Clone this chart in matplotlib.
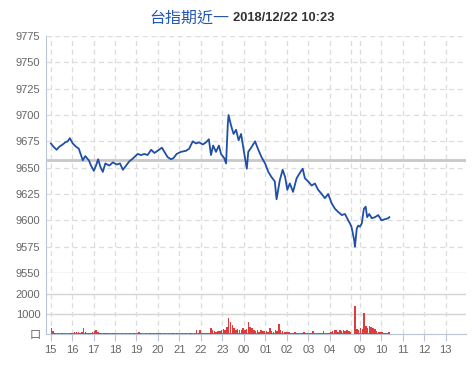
import numpy as np
import matplotlib
matplotlib.use("Agg")
import matplotlib.pyplot as plt

# price samples (night session 15:00-05:00, day session 08:45-)
price_times = ["15:01", "15:08", "15:17", "15:25", "15:34", "15:41", "15:48", "15:54", "16:02", "16:11",
               "16:19", "16:25", "16:30", "16:37", "16:47", "16:53", "17:01", "17:07", "17:13", "17:19",
               "17:26", "17:33", "17:44", "17:54", "18:05", "18:14", "18:22", "18:31", "18:40", "18:51",
               "19:03", "19:13", "19:22", "19:31", "19:41", "19:50", "19:59", "20:11", "20:18", "20:27",
               "20:36", "20:43", "20:52", "21:04", "21:18", "21:27", "21:37", "21:46", "21:55", "22:05",
               "22:14", "22:22", "22:28", "22:34", "22:42", "22:50", "22:56", "23:05", "23:10", "23:15",
               "23:17", "23:24", "23:31", "23:38", "23:45", "23:52", "00:01", "00:08",
               "00:12", "00:22", "00:31", "00:40", "00:49", "00:59", "01:08", "01:17", "01:26", "01:31",
               "01:40", "01:48", "01:55", "02:01", "02:08", "02:17", "02:27", "02:36", "02:44", "02:50",
               "02:59", "03:09", "03:18", "03:27", "03:37", "03:46", "03:55", "04:05", "04:14", "04:23",
               "04:33", "04:42", "04:51", "04:56", "05:00",
               "08:45", "08:47", "08:52", "08:56", "09:01", "09:06", "09:12", "09:17", "09:21", "09:27",
               "09:34", "09:43", "09:52", "10:01", "10:10", "10:20", "10:23"]
prices = [9673, 9670, 9667, 9670, 9672, 9674, 9675, 9678, 9673, 9670,
          9668, 9662, 9657, 9661, 9657, 9652, 9647, 9652, 9658, 9651,
          9646, 9654, 9652, 9655, 9653, 9654, 9648, 9652, 9656, 9659,
          9663, 9662, 9663, 9662, 9667, 9664, 9666, 9669, 9665, 9660,
          9658, 9659, 9663, 9665, 9666, 9668, 9675, 9673, 9674, 9672,
          9674, 9677, 9662, 9671, 9665, 9671, 9663, 9659, 9654, 9692,
          9700, 9690, 9682, 9686, 9676, 9682, 9663, 9649,
          9665, 9670, 9675, 9667, 9660, 9654, 9646, 9641, 9637, 9620,
          9638, 9648, 9641, 9629, 9635, 9627, 9640, 9645, 9649, 9640,
          9637, 9633, 9635, 9629, 9625, 9621, 9625, 9616, 9611, 9608,
          9605, 9606, 9600, 9597, 9594,
          9581, 9575, 9592, 9595, 9594, 9597, 9611, 9613, 9603, 9606,
          9602, 9603, 9605, 9600, 9601, 9602, 9603]
ref_price = 9657

# volume per 5 minutes, one row per hour
vol_night = [280, 150, 60, 0, 40, 0, 40, 0, 50, 0, 30, 60,
             60, 100, 80, 120, 60, 100, 280, 120, 50, 60, 30, 80,
             150, 180, 120, 60, 50, 40, 60, 40, 30, 50, 40, 30,
             0, 30, 0, 40, 0, 0, 40, 0, 30, 0, 40, 0,
             30, 80, 40, 0, 0, 40, 0, 50, 0, 30, 0, 60,
             40, 70, 0, 50, 0, 0, 30, 0, 40, 0, 30, 0,
             0, 40, 0, 60, 0, 30, 40, 0, 50, 200, 40, 200,
             40, 50, 30, 60, 40, 300, 200, 150, 120, 160, 130, 180,
             250, 200, 350, 800, 600, 450, 300, 200, 250, 180, 200, 280,
             200, 250, 580, 350, 300, 200, 150, 180, 120, 200, 150, 150,
             150, 120, 320, 150, 120, 200, 130, 520, 200, 150, 120, 100,
             100, 80, 60, 50, 80, 50, 40, 60, 50, 80, 40, 60,
             40, 60, 150, 40, 50, 30, 60, 40, 160, 60, 40, 70,
             100, 150, 200, 180, 120, 220, 150, 200, 160, 220, 150, 120]
vol_day = [1400, 250, 200, 300, 250, 1050, 380, 300, 420, 350,
           300, 250, 150, 120, 100, 80, 60, 50, 40, 120]

tick_labels = ["15", "16", "17", "18", "19", "20", "21", "22", "23", "00",
               "01", "02", "03", "04", "09", "10", "11", "12", "13"]
tick_hours = [15, 16, 17, 18, 19, 20, 21, 22, 23, 0, 1, 2, 3, 4, 9, 10, 11, 12, 13]

DAY_OPEN = 14.13  # axis position of 08:45


def to_pos(h, m=0):
    if h >= 15:
        return (h - 15) + m / 60
    if h <= 5:
        return (h + 9) + m / 60
    return DAY_OPEN + (h * 60 + m - 525) / 60


px = [to_pos(int(t[:2]), int(t[3:])) for t in price_times]
ticks = [to_pos(h) for h in tick_hours]
vx_night = np.arange(len(vol_night)) * 5 / 60 + 2.5 / 60
vx_day = DAY_OPEN + np.arange(len(vol_day)) * 5 / 60 + 2.5 / 60

W, H = 473, 377
fig = plt.figure(figsize=(W / 100, H / 100), dpi=100)
left, right = 46 / W, 466 / W
ax = fig.add_axes([left, 1 - 273 / H, right - left, 237 / H])
axv = fig.add_axes([left, 1 - 334 / H, right - left, 61 / H])

xlim = (-0.21, 19.33)
grid_c = "#dcdcdc"
spine_c = "#b8c6d6"
lab_c = "#666666"
font = "Liberation Sans"

# price panel
ax.plot(px, prices, color="#1f4fa6", lw=1.3, zorder=3)
ax.axhline(ref_price, color="#c8c8c8", lw=2, zorder=2)
ax.set_xlim(*xlim)
ax.set_ylim(9550, 9775)
ax.set_yticks(np.arange(9550, 9776, 25))
ax.set_xticks(ticks)
ax.tick_params(axis="x", length=0, labelbottom=False)
ax.tick_params(axis="y", length=0, pad=4, labelsize=8, labelcolor=lab_c)
for y in np.arange(9575, 9776, 25):
    ax.axhline(y, color=grid_c, lw=0.9, ls=(0, (4, 3)), zorder=1)
ax.axhline(9550, color="#d0d0d0", lw=1, zorder=1)
for x in ticks + [to_pos(5)]:
    ax.axvline(x, color=grid_c, lw=0.9, ls=(0, (4, 3)), zorder=1)
for s in ["top", "right", "bottom"]:
    ax.spines[s].set_visible(False)
ax.spines["left"].set_color(spine_c)

# volume panel
axv.bar(vx_night, vol_night, width=0.07, color="#e03a3a", zorder=3)
axv.bar(vx_day, vol_day, width=0.07, color="#e03a3a", zorder=3)
axv.hlines([15, 15], [vx_night[0] - 0.04, vx_day[0] - 0.04], [vx_night[-1] + 0.04, vx_day[-1] + 0.04],
           color="#e03a3a", lw=1.2, zorder=3)
axv.set_xlim(*xlim)
axv.set_ylim(0, 3050)
axv.set_yticks([0, 1000, 2000])
axv.set_yticklabels(["口", "1000", "2000"])
axv.set_xticks(ticks)
axv.set_xticklabels(tick_labels)
axv.tick_params(axis="x", length=5, color=spine_c, pad=3, labelsize=8, labelcolor=lab_c)
axv.tick_params(axis="y", length=0, pad=4, labelsize=8, labelcolor=lab_c)
for y in [1000, 2000]:
    axv.axhline(y, color="#d4d4d4", lw=1, zorder=1)
for x in ticks + [to_pos(5)]:
    axv.axvline(x, color=grid_c, lw=0.9, ls=(0, (4, 3)), zorder=1)
for s in ["top", "right"]:
    axv.spines[s].set_visible(False)
axv.spines["left"].set_color(spine_c)
axv.spines["bottom"].set_color(spine_c)

for lab in ax.get_yticklabels() + axv.get_xticklabels() + axv.get_yticklabels():
    lab.set_family([font, "DejaVu Sans"])
axv.get_yticklabels()[0].set_family(["Noto Sans CJK TC", "DejaVu Sans"])

fig.text(229 / W, 1 - 18 / H, "台指期近一", color="#2558b0", fontsize=11.5,
         family=["Noto Sans CJK TC", "DejaVu Sans"], ha="right", va="center")
fig.text(233 / W, 1 - 18 / H, "2018/12/22 10:23", color="#333333", fontsize=9.3,
         fontweight="bold", family=[font, "DejaVu Sans"], ha="left", va="center")

fig.savefig("out.png", dpi=100)
